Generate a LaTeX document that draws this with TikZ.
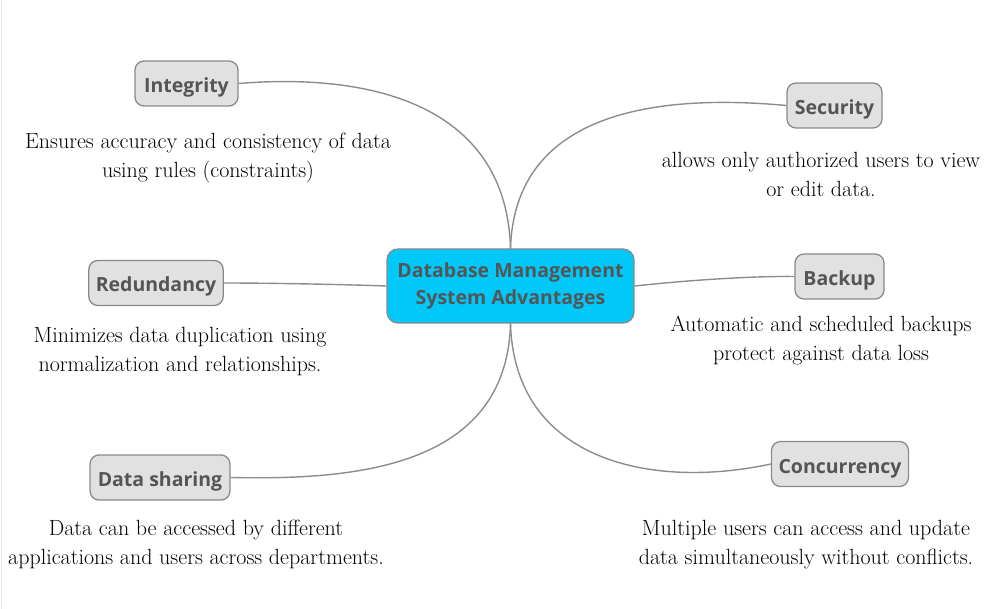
\documentclass[tikz,border=0pt]{standalone}
\usepackage{fontspec}
\newfontfamily\nodefont{Open Sans}
\begin{document}
\begin{tikzpicture}[x=1pt,y=-1pt,
  boxbase/.style={draw=edgegray, line width=1.3pt, fill=topicfill, rounded corners=9pt,
    font=\nodefont\bfseries\fontsize{19.5}{27}\selectfont, text=topictext,
    inner xsep=7pt, align=center},
  topic/.style={boxbase, minimum height=45pt, text height=20pt, text depth=2pt},
  central/.style={boxbase, fill=centerfill, minimum height=74pt, minimum width=247pt, rounded corners=11pt},
  desc/.style={font=\rmfamily\fontsize{22}{29}\selectfont, align=center, text=black},
  link/.style={draw=linkgray, line width=1.4pt}
]
\definecolor{edgegray}{HTML}{8A8A8A}
\definecolor{linkgray}{HTML}{8C8C8C}
\definecolor{topicfill}{HTML}{E1E1E1}
\definecolor{centerfill}{HTML}{00C9F9}
\definecolor{topictext}{HTML}{555555}
\useasboundingbox (0,0) rectangle (987,609);
\draw[draw=black!10, line width=1pt] (1,0) -- (1,609);

\node[central] (c) at (510.5,286) {Database Management\\System Advantages};
\node[topic, minimum width=103pt] (integ) at (186.5,83.5) {Integrity};
\node[topic, minimum width=95pt] (sec) at (834.5,105.5) {Security};
\node[topic, minimum width=134pt] (red) at (156,283) {Redundancy};
\node[topic, minimum width=89pt] (back) at (839.5,276.5) {Backup};
\node[topic, minimum width=140pt] (share) at (160,477.5) {Data sharing};
\node[topic, minimum width=136pt] (conc) at (840,464) {Concurrency};

\coordinate (ctop) at (510.5,249);
\coordinate (cbot) at (510.5,323);

\draw[link] (ctop) .. controls (507,110) and (380,72) .. (integ.east);
\draw[link] (ctop) .. controls (514,120) and (640,92) .. (sec.west);
\draw[link] (c.west) .. controls (330,284) and (260,283) .. (red.east);
\draw[link] (c.east) .. controls (700,279) and (760,276) .. (back.west);
\draw[link] (cbot) .. controls (507,470) and (350,480) .. (share.east);
\draw[link] (cbot) .. controls (514,460) and (650,490) .. (conc.west);

\node[desc] (d1) at (208,158.5) {Ensures accuracy and consistency of data\\using rules (constraints)};
\node[desc] (d2) at (821,174.5) {allows only authorized users to view\\or edit data.};
\node[desc] (d3) at (180,351.5) {Minimizes data duplication using\\normalization and relationships.};
\node[desc] (d4) at (821,340.5) {Automatic and scheduled backups\\protect against data loss};
\node[desc] (d5) at (196,544.5) {Data can be accessed by different\\applications and users across departments.};
\node[desc] (d6) at (806,544.5) {Multiple users can access and update\\data simultaneously without conflicts.};
\end{tikzpicture}
\end{document}
